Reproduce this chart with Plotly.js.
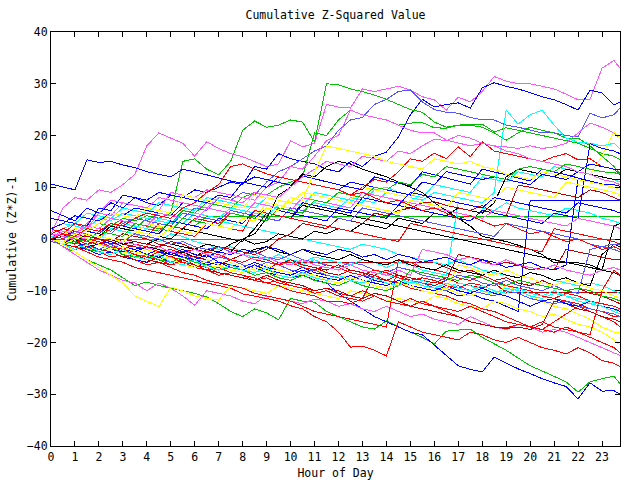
<!DOCTYPE html>
<html>
<head>
<meta charset="utf-8">
<script src="https://cdn.plot.ly/plotly-3.0.1.min.js"></script>
<style>
html,body{margin:0;padding:0;background:#fff;}
.js-line{shape-rendering:crispEdges;}
</style>
</head>
<body>
<div id="chart" style="width:640px;height:480px;"></div>
<script>
// Hour of day (half-hour samples, last at 23:45)
const hours = [0,0.5,1,1.5,2,2.5,3,3.5,4,4.5,5,5.5,6,6.5,7,7.5,8,8.5,9,9.5,10,10.5,11,11.5,12,12.5,13,13.5,14,14.5,15,15.5,16,16.5,17,17.5,18,18.5,19,19.5,20,20.5,21,21.5,22,22.5,23,23.5,23.75];
const xTicks = [0,1,2,3,4,5,6,7,8,9,10,11,12,13,14,15,16,17,18,19,20,21,22,23];
const yTicks = [-40,-30,-20,-10,0,10,20,30,40];

// Cumulative (Z*Z)-1 series
const mag1 = [1,6,8,7.5,9.5,9,10.5,12.5, 18,20.5,19.5,18.5,16,18.8,17.5,16.5, 15.9,15,14,14.5,19,17.8,18.5,26, 25.5,25.3,29,28.5,29,29.5,28.8,27.5, 26.9,24.9,27.4,26.5,28.5,31.4,30.5,30, 30,29.5,29,28,26.9,27,33,34.5, 33];
const blueTop = [5.5,4.5,3.5,6,5,7,6,8, 7,6.5,8.5,8,9.5,9,10,11, 10.5,14,13.5,16.5,15.5,15,14.5,13.5, 13,15,14,16,16.8,19.7,24,27, 25.5,26,26.3,25.3,29.2,30.2,29.5,29, 28.2,27.5,26.9,26,24.9,28.8,28.2,25.9, 26.5];
const lb1 = [2,1,3,2,1.5,3,2.5,4, 3.5,5,4.5,4,6,5.5,8,7.5, 9,8.5,11,13,14,15.5,17,18, 21,23,23.5,26,27,28.5,28.8,26.5, 25,24.5,24.3,23.5,23,23,22,21.6, 21,20.5,20.5,20,19.7,24.3,23.4,24, 25.3];
const g1 = [0,1,2,1.5,3,2.5,4,3.5, 4.5,4,5,15,15.5,13.5,12.4,15, 21,22.8,21.6,22,23,22.6,18.7,30, 29.8,29,28.5,27.8,27,26,25,24.5, 22.6,21.6,22,22.2,22.2,20.7,21.5,21, 20.5,20,19.5,19,18.5,17.5,16.5,16, 15.3];
const g2 = [1,0,2,1.5,1,3,2.5,2, 4,3.5,3,5.5,5,7,6.5,6, 8,9,8.5,10,11,12,20.5,20, 23,24.9,24,23.5,23,22,22.4,22.5, 21.5,21.4,22,22,21.6,20.5,19.1,20.5, 21.6,21,20.5,19.5,19.5,18,16,14, 12.6];
const m2 = [0,2,1,3,5,4.5,7,6.5, 6,5.5,9,8.5,8,9.5,9,8.5, 8,7.5,10,11,14,13.5,16,19, 20,24.9,24,23.5,23,22,21,20.5, 20.5,19.1,18.5,18,18.5,18,17.8,17.5, 18,17.5,17.8,18.5,20.5,22.4,21.6,20.5, 19.5];
const c1 = [0.5,1,0,2,1.5,1,3,2.5, 2,4,3.5,3,5,4.5,4,6, 5.5,5,4.5,6.5,6,5.5,7,6.5, 6,8,7.5,7,9,8.5,8,7.5, 9,8.5,8,7.5,7,9,24.9,22.2, 24,24.9,22,19.5,18.7,18.5,18,18.5, 17.4];
const r1 = [1,0,-1,1,0.5,2,1.5,1, 0.5,3,2.5,2,4,3.5,3,5, 4.5,7,6.5,6,5.5,8,7.5,7, 9,8.5,10,11.5,11,13,15.5,15, 16.6,15.5,17.8,15.9,18.8,17,16.5,16, 15.5,15,15.9,16.5,15.3,15.5,14,13.5, 12.4];
const y1 = [0,-1,1,0.5,0,2,1.5,1, 3,2.5,2,4,3.5,6,5.5,5, 4.5,4,7,6.5,6,5.5,9,8.5, 8,7.5,10,9.5,9,8.5,8,11, 10.5,10,9.5,9,12,11.5,11,13.5, 13,12.5,12,11.5,13,12.5,16,20.7, 19.5];
const b1 = [10.6,10,9.5,15.3,14.8,15,14.3,13.8, 13,12.5,12,13.5,13,12.4,11.8,11.2, 10.8,12,11.5,11,10.4,12.2,11.6,11, 10.5,10,9.5,12,11.4,10.8,10.2,13, 12.4,11.8,11.2,10.6,13.5,13,12.4,11.8, 11.2,13.5,13,12.4,11.8,11.2,10.6,10.5, 10.2];
const bFlat = [0,-1,-0.5,-1.5,-2,-1,-2,-2.5, -3,-2,-3,-3.5,-4,-3,-4.5,-5, -5.5,-4.5,-5.5,-6,-6.5,-5.5,-6.5,-7, -7.5,-8,-7,-8,-8.5,-9,-8,-9, -9.5,-10,-11,-10.5,-11.5,-12,-13,-14, 7.5,7.5,7.5,7.5,7.5,7.5,7.5,7.5, 7.5];
const gFlat = [0,1,0.5,2,1.5,1,3,2.5, 2,1.5,3.5,3,2.5,4.4,4.4,4.4, 4.4,4.4,4.4,4.4,4.4,4.4,4.4,4.4, 4.4,4.4,4.4,4.4,4.4,4.4,4.4,4.4, 4.4,4.4,4.4,4.4,4.4,4.4,4.4,4.4, 4.4,4.4,4.4,4.4,4.4,4.4,4.4,4.4, 4.4];
const gZero = [0,0,0,0,0,0,0,0, 0,0,0,0,0,0,0,0, 0,0,0,0,0,0,0,0, 0,0,0,0,0,0,0,0, 0,0,0,0,0,0,0,0, 0,0,0,0,0,0,0,0, 0];
const dr1 = [0,-1,-0.5,-1.5,-2,-1,-2.5,-3, -2,-3,-3.5,-2.5,-3.5,-4,-5,-4, -5,-5.5,-6,-4.5,-4.5,-4.5,-4.5,-4.5, -4.5,-4.5,-4.5,-4.5,-4.5,-4.5,-4.5,-4.5, -4.5,-5.5,-6.5,-6,-7,-8,-7.5,-8.5, -9,-8,-9,-10,-9.5,-10.5,-11,-12, -12.5];
const dr2 = [0,1,0.5,-0.5,-1,0,-1,-1.5, -2,-1.5,-2.5,-3,-2,-3,-3.5,-4, -3,-4,-4.5,-5,-4,-5,-5.5,-6, -5,-6,-6.5,-7,-6,-7,-7.5,-8, -8.5,-7.5,-8.5,-9,-9.5,-8.5,-10.3,-10.3, -10.3,-10.3,-10.3,-10.3,-10.3,-10.3,-10.3,-10.3, -10.3];
const gLow = [0,-1.5,-2.5,-4,-5,-6,-7.5,-9, -8.3,-9,-9.5,-10,-10.5,-11.2,-12.5,-14, -15,-13.5,-14.3,-15.6,-11.5,-12,-12.2,-14, -15,-16,-17,-17.4,-15.8,-17,-18,-19, -20.3,-17.8,-17.6,-17.4,-19,-20.3,-21.5,-23, -24.5,-25.5,-26.5,-27.6,-29.6,-27.6,-27,-26.5, -28];
const bLow = [0,-1,-1.5,-2,-3,-2.5,-3.5,-4, -4.5,-3.5,-4.5,-5,-5.5,-4.5,-5,-6, -6.5,-5.5,-6.5,-7,-7.5,-7,-7.9,-8.5, -10.5,-12,-13.5,-15,-16,-17,-18,-18.5, -20.5,-22.5,-24.5,-25.2,-25.7,-22.8,-24,-25.1, -26,-27,-27.8,-28.5,-30.9,-27.8,-29.4,-29.3, -30];
const rLow = [0,-1,-1.5,-2.5,-3.5,-4,-4.5,-5.5, -6,-6.5,-7,-7.5,-8,-8.5,-9,-9.5, -10.6,-11,-11.5,-12,-12.9,-13.5,-15,-16, -18,-20.9,-20.7,-21.5,-22.6,-16,-17,-18, -18.5,-19,-19.5,-18,-18.5,-19.5,-20,-19, -20,-21,-21.5,-22.2,-21,-22,-23.5,-24, -24.7];
const mLow = [0,-1.5,-3,-4.5,-6,-7,-8,-8.5, -10,-8.5,-9.5,-11,-12.8,-10,-10.5,-11, -12,-12.5,-11,-11.5,-12,-12.5,-11.6,-12, -13,-12.5,-13.5,-14,-13,-14,-15,-14.5, -15.5,-16,-16.5,-15,-16,-17,-17.5,-16.5, -17,-18,-17.5,-18,-19,-20,-21,-22, -22.5];
const yLow = [0,-1,-2.5,-4,-5.5,-7,-8.5,-11, -12,-13.1,-9.3,-10,-11,-11.5,-11.8,-9, -9.5,-10,-10.5,-9,-9.5,-10,-10.5,-11, -11.5,-10,-10.5,-11,-12,-11.5,-12,-12.5, -11,-11.5,-12.5,-13,-13.5,-12,-12.5,-13.5, -14,-15,-14.5,-15.5,-16.5,-17,-18,-19.5, -20.5];
const yMid = [1,0,-0.5,-1.5,-1,-2,-2.5,-3, -2,-3,-3.5,-4.5,-4,-5,-5.5,-4.5, -5.5,-6,-5,-6,-6.5,-7,-6,-6.5, -7,-7.5,-6.5,-7.5,-8,-9,-8.5,-9, -10,-9.5,-10.5,-11,-10,-11,-9,-10, -11,-12,-13,-13.5,-14.5,-15.5,-17,-18, -18];
const r2 = [1,0.5,-0.5,0,-1,-2,-1.5,-2.5, -3,-4,-3.5,-4.5,-5,-6,-5.5,-6.5, -7,-7.5,-8.5,-8,-9,-9.5,-10,-9.5, -10.5,-11,-10,-11,-12,-12.5,-11.5,-12.5, -13,-14,-15,-16,-16.5,-17,-17.2,-16.5, -17,-17.5,-18,-17,-18,-19,-20,-21, -22];
const r3 = [0,1,0,-1,-0.5,-1.5,-2,-3, -3.5,-2.5,-3.5,-4,-5,-5.5,-6.5,-7, -7.5,-8,-8.5,-9,-10,-10.5,-11,-12, -12,-12.5,-11.5,-7,-8,-8.5,-9.5,-10, -10.5,-11,-12,-12.5,-13.5,-14,-15,-16, -17,-17.5,-16,-14.5,-13,-14,-15,-16, -17];
const r4 = [0,-1,-2,-1.5,-2.5,-3.5,-3,-4, -5,-4.5,-5.5,-6.5,-7,-8,-8.5,-9, -9.5,-10.5,-11,-11.5,-12,-13,-14,-14.5, -15,-15.5,-16,-16.5,-17,-4,-4.5,-5.5, -6,-6.5,-7.5,-8,-7,-8,-9,-9.5, -10.5,-11,-11.5,-12,-12.5,-13.5,-14,-15, -15];
const c2 = [2,3,2.5,2,4,3.5,5,4.5, 4,3.5,3,5,4.5,4,3.5,3, 2.5,2,1.5,1,0.5,0,-0.5,-1, -1.5,-2,-1,-1.5,-2,-3,-3.5,-4, -4.5,-5,-4,-5,-6,-6.5,-7,-7.5, -6.5,-7,-8,-8.5,-9,-8.5,-9,-10, -10.5];
const c3 = [0,-0.5,-1,0,-1,-1.5,-2,-1, -1.5,-2,-2.5,-1.5,-2,-3,-3.5,-2.5, -3,-3.5,-4,-3,-4,-4.5,-3.5,-4, -4.5,-5,-4,-4.5,-5.5,-4.5,-5,-6, -6.5,-7,7,6.5,6,5.5,7,6, 5.5,5,4.5,6,5.5,5,4,3.5, 3];
const c4 = [0,1.5,1,0.5,0,2,1.5,1, 0,-0.5,1,0.5,-0.5,-1,-2,-1.5, -2.5,-3,-4,-3.5,-4.5,-5,-4,-5, -5.5,-6.5,-7,-6,-7,-7.5,-8.5,-8, -9,-9.5,-8.5,-9,-10,-10.5,-9.5,-10, -11,-11.5,-10.5,-11,-12,-12.5,-13,-14, -13.5];
const c5 = [1,2,3,5,4.5,4,6,5.5, 5,7,6.5,6,5.5,8,7.5,7, 6.5,6,8,7.5,7,6.5,9,8.5, 8,7.5,7,9.5,10,9,8.5,8, 10.5,10,9.5,9,12,11.5,11,13, 12.5,12,14,13.5,13,12.5,12,11.5, 11];
const k1 = [0,-1,0.5,0,-1,-1.5,-0.5,-1, -2,-1.5,-2.5,-3,-2,-3,-3.5,-2.5, 0,1,4,8.5,10,12.6,12,14, 15,14.5,13.5,12.8,12,11,10,9, 7,5.5,4,2.5,0.5,0,-0.5,-1.2, -2,-3,-4.6,-4.6,-4.6,-5,-6,2.5, 3];
const k2 = [0,0.5,-0.5,1,0.5,0,-1,-0.5, -1,0,-1,-1.5,-2,-1,-1.5,-2.5, -3,-2,-1.5,-2.5,-3,-2,-3,-3.5, -4,-3,-4,-4.5,-5,-4,-5,-5.5, -6,-5,-6,-6.5,-7,-6,-7,-7.5, -6.5,-7,-8,-7.5,-8.5,-9,-3,-1, -1.5];
const k3 = [0,-1,-0.5,-1.5,-2,-1,-2,-2.5, -1.5,-2,-3,-2.5,-3.5,-2,-2.5,-1, 0,-1,-0.5,1,0.5,0,1.5,1, 2,1.5,3,2.5,2,4,3.5,3, 5,4.5,6,5.5,5,7,12,13.5, 13,12.5,12,13.5,13,12.5,12,11.5, 11.5];
const k4 = [0,0.5,1.5,1,0.5,2.5,2,1.5, 1,0.5,0,2,1.5,1,0.5,0, -0.5,2,5,4.5,4,6.5,6,5.5, 5,4.5,4,3.5,3,2.5,2,1.5, 1,0.5,0,-0.5,-1,-1.5,-2,-2.5, -3,-3.5,-4,-4.5,-5,-5.5,-6,-6.5, -7];
const dr3 = [0,-0.5,1,0.5,0,-1,0,-0.5, -1,-1.5,-0.5,-1,-2,-2.5,-1.5,-2, -2.5,-3,-2,0,1,3,2.5,2, 4,3.5,3,5,4.5,5.5,6,7, 7.2,6.5,6,5.5,6.5,5,4.5,10.4, 10,9.5,9,8.5,8,9.5,9,8, 7.5];
const dr4 = [1,2,1.5,1,0,-0.5,1,0.5, 0,-1,-1.5,-2.5,-2,-3,-3.5,-2.5, -3,-4,-4.5,-5,-4,-5,-5.5,-6.5, -7,-6,-6.5,-7.5,-8,-7,-8,-8.5, -9,-8,-3,-3.5,-4,-5,-4.5,-5, -6,-5.5,-6,-2,-2.5,-3,-3.5,-4, -4];
const dr5 = [0,-1,-1.5,-1,-2,-2.5,-3.5,-3, -4,-4.5,-5,-4,-5,-6,-6.5,-7, -7.5,-8,-7,-8,-8.5,-9,-10,-9.5, -10,-11,-11.5,-10.5,-11,-12,-13,-13.5, -14,-14.5,-15,-16,-16.5,-17,-17.3,-17, -17.5,-16.5,-12,-12.5,-13.5,-14,-15,-15.5, -16];
const lb2 = [0,1,0.5,2,1.5,1,3,4, 3.5,3,2.5,5,4.5,4,3.5,5.5, 5,4.5,4,3.5,6,5.5,5,4.5, 4,3.5,6,5.5,5,4.5,4,3.5, 3,2.5,2,1.5,1,0.5,3,2.5, 2,1.5,1,0.5,0,-1,-1.5,-2, -2.5];
const lb3 = [-0.5,-1,-0.5,-1.5,-2,-1,-2,-2.5, -3,-3.5,-2.5,-3,-4,-4.5,-3.5,-4, -5,-5.5,-4.5,-5,-6,-6.5,-6,-7, -7.5,-8,-7,-7.5,-8.5,-9,-8,-8.5, -9.5,-10,-9,-10,-10.5,-11,-10,-10.5, -11.5,-12,-12.5,-12,-13,-13.5,-14,-14.5, -15];
const lb4 = [1,0,1.5,1,0.5,0,-0.5,1, 0.5,0,-1,-0.5,-1.5,-2,-1.5,-2.5, -3,-2.5,-3.5,-4,-3,-4,-4.5,-5, -5.5,-4.5,-5,-6,-6.5,-5.5,-6,-7, -7.5,-8,-7,-7.5,-8.5,-9,-8,-9, -9.5,-10,-9,-10,-10.5,-2,-1.5,-1, -1];
const b3 = [0,1,0.5,0,-1,-0.5,-1.5,-2, -1.5,-2.5,-3,-2,-3,-3.5,-2.5,-3, -2,-2.5,-1.5,-2,-3,-2,-2.5,-3, -2,-2.5,-3.5,-3,-4,-3,-3.5,-4.5, -4,-3.5,-4.5,-5,-4,-4.5,-5.5,-5, -4.5,-5.5,-6,-5,11.6,11,10.5,10, 9.5];
const b4 = [2,3,4.5,4,3.5,5,4.5,6, 5.5,5,4.5,7,6.5,6,5.5,5, 4.5,4,6,5.5,5,4.5,4,3.5, 6,5.5,5,4.5,4,6.5,6,5.5, 5,4.5,4,3.5,5.5,5,4.5,4, 3.5,3,5,4.5,4,18.4,17.5,17, 16.5];
const b5 = [4,3.5,3,2.5,6,5.5,8.5,8, 7.5,9,8.5,8,7.5,7,8.5,8, 11,10.5,10,12,11.5,11,10.5,10, 9.5,11,10.5,10,9.5,9,8.5,11, 10.5,13,12.5,12,11.5,12,11.5,11, 10.5,12.5,12,11.5,13,14.5,14,13.5, 13.5];
const b6 = [0,1,2,1.5,1,3,2.5,2, 1.5,1,3.5,3,2.5,2,4,3.5, 3,5.5,5,4.5,4,7,6.5,6, 5.5,5,8,7.5,7,6.5,9,8.5, 8,7.5,7,6.5,6,8,7.5,7, 6.5,6,5.5,5,7,6.5,6,5.5, 5];
const b7 = [1,0,-0.5,-1.5,-1,-2,-2.5,-2, -3,-3.5,-2.5,-3.5,-4,-5,-4.5,-5.5, -6,-5,-6,-6.5,-7,-6,-7,-7.5, -8,-7,-8,-8.5,-9,-8,-9,-9.5, -10,-9,-10,-10.5,-9.5,-10.5,-11,-12, -13,-12,-11.5,-12.5,-13,-12,-13,-13.5, -14];
const r5 = [2,1,3,2.5,2,1.5,3.5,3, 2.5,2,1.5,1,0.5,3,2.5,2, 1.5,5.5,5,4.5,4,3.5,3,2.5, 2,1.5,1,0.5,0,-0.5,3,2.5, 2,1.5,1,0.5,0,-0.5,-1,-1.5, -2,-2.5,2,1.5,1,0.5,0,-0.5, -1];
const r6 = [0,-1,-2,-1.5,-2.5,-3,-2,-3, -3.5,-4,-5,-4.5,-5.5,-6,-7,-6.5, -7,-8,-7.5,-8.5,-9,-9.5,-10.5,-10, -11,-11.5,-12,-11,-12,-12.5,-13,-12, -13,-13.5,-14,-13,-14,-15,-16,-16.5, -17,-16,-17,-17.5,-18,-18.5,-10,-6, -7];
const r7 = [1,0,-1,0,-0.5,-1.5,-2,-1, -1.5,-2.5,-2,-3,-3.5,-2.5,-3,-4, -4.5,-3.5,-4,-5,-4.5,-5.5,-6,-5, -5.5,-6.5,-7,-6,-6.5,-7.5,-8,-7.5, -8,-9,-9.5,-8.5,-9,-10,-10.5,-9.5, -10,-11,-11.5,-10.5,-11,-12,-12.5,-13, -13.5];
const m4 = [0,-0.5,0.5,0,-1,-1.5,-0.5,-1, -2,-1.5,-2.5,-3,-2,-3,-3.5,-2.5, -3,-4,-3.5,-4.5,-5,-4,-5,-5.5, -6,-5,-6,-6.5,-7,-6,-7,-2, -2.5,-3,-4,-3.5,-4.5,-5,-4,-5, -5.5,-6,-5,-6,-6.5,-7,-6,-5.5, -6];
const m5 = [1,0.5,0,2,5,7.5,7,6.5, 6,8,7.5,7,6.5,6,8,7.5, 7,9,8.5,8,10,12,13.5,15, 14.5,14,16,15.5,15,17,16.5,18, 19.3,19,20,19.5,18.5,18,17,16.5, 15.5,15,14.5,14,13,12.5,11.5,11, 10.5];
const m6 = [0,1.5,1,2.5,2,4,3.5,3, 2.5,5,4.5,4,3.5,6,5.5,5, 4.5,7,6.5,6,5.5,8,7.5,7, 6.5,6,9,8.5,8,7.5,7,6.5, 6,5.5,5,4.5,4,5.5,5,4.5, 4,3.5,3,2.5,4,3.5,3,2.5, 2];
const y3 = [0,1,2,1.5,3,5,4.5,4, 6,5.5,5,8.5,8,7.5,7,6.5, 6,8.5,8,7.5,7,9,8.5,8, 7.5,7,6.5,6,5.5,5,7.5,7, 6.5,6,9,8.5,8,7.5,10,9.5, 9,8.5,8,11,10.5,10,9.5,9, 8.5];
const y4 = [0,-0.5,1,0,-1,-2,-1.5,-2.5, -3,-4,-3.5,-5,-5.5,-4,-5,-6, -6.5,-5.5,-6,-7,-7.5,-6.5,-7,-8, -8.5,-7.5,-8,-9,-9.5,-8.5,-9,-10, -10.5,-9.5,-5,-5.5,-6.5,-7,-6,-7, -7.5,-8.5,-9,-8,-8.5,-9.5,-10,-11, -11.5];
const g3 = [0,1,0,-0.5,1.5,1,0.5,3, 2.5,2,1.5,4,3.5,3,2.5,5, 4.5,4,3.5,6,5.5,5,7.5,7, 9,8.5,8,10,9.5,11,10.5,12.5, 12,14,13.5,13,12.5,12,11.5,13.5, 14,13.5,13,14.5,14,13.5,13,12.8, 12.6];
const g4 = [0,-1,-0.5,-2,-2.5,-1.5,-3,-3.5, -3,-4,-4.5,-3.5,-4.5,-5,-6,-5.5, -6,-7,-6.5,-7.5,-8,-7,-8,-8.5, -9,-8,-9,-9.5,-10,-9,-6,-6.5, -7,-7.5,-8,-7,-7.5,-8.5,-9,-8, -8.5,-9,-9.5,-10,-9.5,-10,-11,-11.5, -12];
const c6 = [0,-1,-2,-1,-2.5,-3,-2,-3.5, -4,-3,-4.5,-5,-4,-5.5,-6,-5, -6,-6.5,-5.5,-7,-7.5,-6.5,-7.5,-8, -7,-8,-8.5,-7.5,-8.5,-9,-8,-9, -9.5,-8.5,-9.5,-10,-9,-10,-10.5,-9.5, -10.5,-11,-10,-11,-11.5,-12,-13,-14, -14.5];
const r8 = [0,1,0.5,2,1.5,3,2.5,4, 5,4.5,4,6,7,9,10.5,14, 14.5,13.5,12.6,12,11.5,11,10.5,10, 9.5,8.5,9,8,7,7.5,6.5,5.5, 6,5,4,4.5,3.5,2.5,3,2, 1,1.5,0.5,-0.5,0,-1,-2,-1.5, -2];
const y5 = [0,-1,0,1,0.5,0,-0.5,1.5, 1,0.5,2,1.5,1,3,2.5,2, 4,3.5,6,5.5,8,7.5,13,18, 17.5,17,16.5,16,15,14.5,14,13.5, 15.5,15,14.5,15,14,13.5,12.5,12, 11.5,13,12.5,12,11.5,11,10.5,10, 9.5];

const RED='#ff0000', GRN='#00c000', BLU='#0000ff', MAG='#ff55ff', CYA='#00ffff',
      YEL='#ffff00', BLK='#000000', DRD='#c00000', LBL='#5555ff';

const seriesList = [
  [gZero,GRN],[gFlat,GRN],[dr1,DRD],[dr2,DRD],
  [mag1,MAG],[blueTop,BLU],[lb1,LBL],[g1,GRN],[g2,GRN],[m2,MAG],[c1,CYA],[r1,RED],[y1,YEL],
  [b1,BLU],[bFlat,BLU],[gLow,GRN],[bLow,BLU],[rLow,RED],[mLow,MAG],[yLow,YEL],[yMid,YEL],
  [r2,RED],[r3,RED],[r4,RED],[c2,CYA],[c3,CYA],[c4,CYA],[c5,CYA],[k1,BLK],[k2,BLK],[k3,BLK],[k4,BLK],
  [dr3,DRD],[dr4,DRD],[dr5,DRD],[lb2,LBL],[lb3,LBL],[lb4,LBL],[b3,BLU],[b4,BLU],[b5,BLU],[b6,BLU],[b7,BLU],
  [r5,RED],[r6,RED],[r7,RED],[m4,MAG],[m5,MAG],[m6,MAG],[y3,YEL],[y4,YEL],[g3,GRN],[g4,GRN],[c6,CYA],
  [r8,RED],[y5,YEL]
];

const traces = seriesList.map(function(s){
  return {type:'scatter', mode:'lines', x:hours, y:s[0],
          line:{color:s[1], width:1}, hoverinfo:'skip', showlegend:false};
});

const FONT = {family:'DejaVu Sans Mono, monospace', size:11.5, color:'#000'};

const layout = {
  width:640, height:480,
  margin:{l:51, r:20, t:32, b:34, pad:0},
  paper_bgcolor:'#fff', plot_bgcolor:'#fff',
  showlegend:false,
  font:FONT,
  title:{text:'Cumulative Z-Squared Value', x:0.5, xref:'paper', xanchor:'center',
         y:1-15/480, yref:'container', yanchor:'middle', font:FONT},
  xaxis:{range:[0,23.75], tickmode:'array', tickvals:xTicks, ticks:'inside', ticklen:5,
         tickcolor:'#000', showline:true, linecolor:'#000', linewidth:1, mirror:'ticks',
         showgrid:false, zeroline:false, tickfont:FONT,
         title:{text:'Hour of Day', font:FONT, standoff:6}},
  yaxis:{range:[-40,40], tickmode:'array', tickvals:yTicks, ticks:'inside', ticklen:5,
         tickcolor:'#000', showline:true, linecolor:'#000', linewidth:1, mirror:'ticks',
         showgrid:false, zeroline:false, tickfont:FONT,
         title:{text:'Cumulative (Z*Z)-1', font:FONT, standoff:7}}
};

Plotly.newPlot('chart', traces, layout, {staticPlot:true, displayModeBar:false});
</script>
</body>
</html>
